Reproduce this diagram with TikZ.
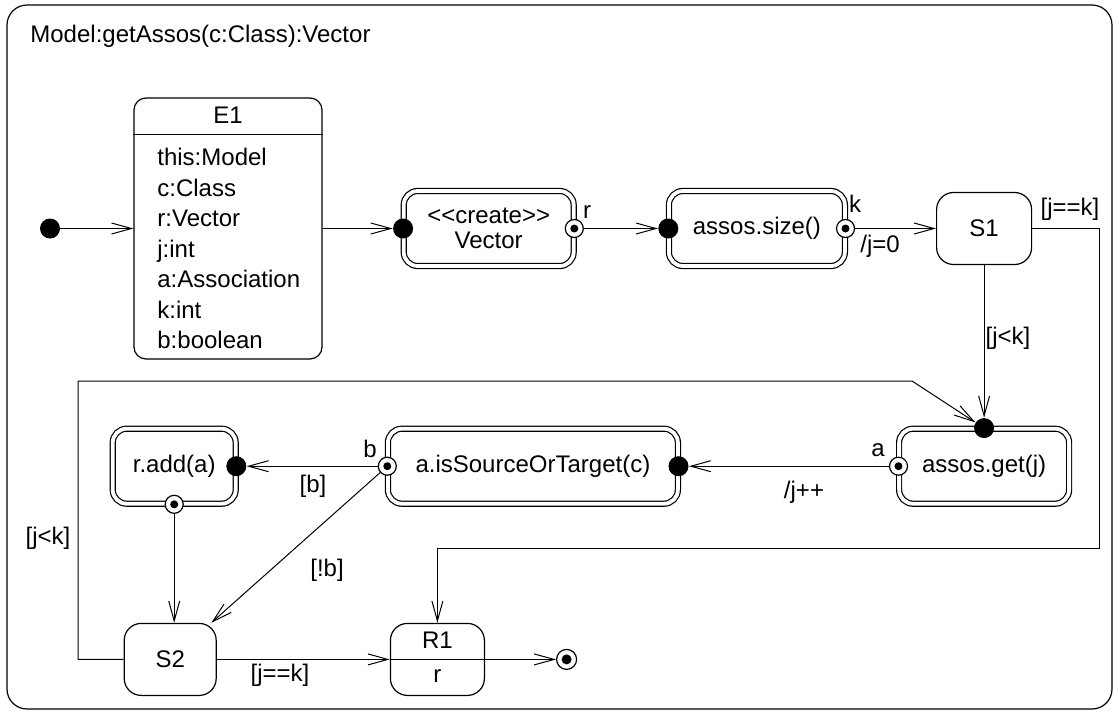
\documentclass[tikz,border=0pt]{standalone}
\usepackage{fontspec}
\setmainfont{Liberation Sans}
\usetikzlibrary{positioning, arrows.meta}

\tikzset{
	state/.style={draw, line width=0.6pt, rounded corners=8.5pt, minimum height=36pt, inner sep=2pt},
	action/.style={draw, double, double distance=1.9pt, line width=0.6pt, rounded corners=7pt, minimum height=37.5pt, align=center},
	pinin/.style={circle, fill=black, minimum size=10pt, inner sep=0pt},
	pinout/.style={circle, draw, fill=white, line width=0.6pt, minimum size=9pt, inner sep=0pt,
		path picture={\fill[black] (path picture bounding box.center) circle (2pt);}},
	trans/.style={draw, line width=0.5pt, -{Straight Barb[length=10pt, width=5.5pt]}},
	lbl/.style={inner sep=1pt, text height=8.6pt, text depth=2.4pt},
}

\begin{document}
\begin{tikzpicture}[x=0.5pt, y=-0.5pt, font=\fontsize{12}{12.5}\selectfont]
	\useasboundingbox (0,0) rectangle (1118,713);
	\draw[line width=0.6pt, rounded corners=10pt] (7,5) rectangle (1112,709);
	\node[lbl, anchor=west] (title) at (28,36) {Model:getAssos(c:Class):Vector};
	% E1 with its variables
	\node[state, rounded corners=6pt, minimum width=94pt, minimum height=130.5pt] (E1) at (228,228.5) {};
	\draw[line width=0.6pt] ([yshift=-18.5pt]E1.north west) -- ([yshift=-18.5pt]E1.north east);
	\node[lbl] (E1name) at (228,117) {E1};
	\foreach \v [count=\i] in {this:Model, c:Class, r:Vector, j:int, a:Association, k:int, b:boolean}
		\node[lbl, anchor=west, text depth=0pt] (var\i) at (155, 126.5+30.5*\i) {\v};
	\node[pinin, left=36.5pt of E1] (init) {};
	% top row
	\node[action, minimum width=85pt, right=40.25pt of E1] (create) {<\kern0pt<create>\kern0pt>\\Vector};
	\node[action, minimum width=88pt, right=47pt of create] (size) {assos.size()};
	\node[state, minimum width=47.5pt, right=45.25pt of size] (S1) {S1};
	% lower row
	\node[action, minimum width=85pt, below=81.5pt of S1] (get) {assos.get(j)};
	\node[action, minimum width=145pt, left=110pt of get] (src) {a.isSourceOrTarget(c)};
	\node[action, minimum width=61.5pt, left=75.5pt of src] (add) {r.add(a)};
	\node[state, minimum width=46pt, below=59.25pt of add, xshift=-2pt] (S2) {S2};
	\node[state, minimum width=47pt, right=86.5pt of S2] (R1) {};
	\draw[line width=0.6pt] (R1.west) -- (R1.east);
	\node[lbl] (R1name) at ([yshift=8.5pt]R1.center) {R1};
	\node[lbl] (R1res) at ([yshift=-8.5pt]R1.center) {r};
	\node[pinout, minimum size=10pt, right=35.5pt of R1,
		path picture={\fill[black] (path picture bounding box.center) circle (2.5pt);}] (final) {};
	% pins
	\node[pinin] (createIn) at (create.west) {};
	\node[pinout] (createOut) at (create.east) {};
	\node[pinin] (sizeIn) at (size.west) {};
	\node[pinout] (sizeOut) at (size.east) {};
	\node[pinin] (getIn) at (get.north) {};
	\node[pinout] (getOut) at (get.west) {};
	\node[pinin] (srcIn) at (src.east) {};
	\node[pinout] (srcOut) at (src.west) {};
	\node[pinin] (addIn) at (add.east) {};
	\node[pinout] (addOut) at (add.south) {};
	\coordinate (rt) at (1099,548);
	\coordinate (lp1) at (78,381);
	\coordinate (lp2) at (912,381);
	% transitions
	\draw[trans] (init) -- (init -| E1.west);
	\draw[trans] (E1) -- (createIn);
	\draw[trans] (createOut) -- (sizeIn);
	\draw[trans] (sizeOut) -- (S1);
	\draw[trans] (S1.east) -| (rt) -| (R1.north);
	\draw[trans] (S1) -- (getIn);
	\draw[trans] (getOut) -- (srcIn);
	\draw[trans] (srcOut) -- (addIn);
	\draw[trans] (srcOut) -- (S2);
	\draw[trans] (addOut) -- (addOut |- S2.north);
	\draw[trans] (S2.west) -| (lp1) -- (lp2) -- (getIn);
	\draw[trans] (S2) -- (R1);
	\draw[trans] (R1) -- (final);
	% labels
	\node[lbl] (rLbl) at (587,212) {r};
	\node[lbl] (kLbl) at (855,206) {k};
	\node[lbl] (initJ) at (880,246) {/j=0};
	\node[lbl] (done1) at (1070,209) {[j==k]};
	\node[lbl] (loop1) at (1008,338) {[j<k]};
	\node[lbl] (aLbl) at (878,450) {a};
	\node[lbl] (incJ) at (804,492) {/j++};
	\node[lbl] (bLbl) at (370,451) {b};
	\node[lbl] (isB) at (313,486) {[b]};
	\node[lbl] (notB) at (327,570) {[!b]};
	\node[lbl] (loop2) at (48,538) {[j<k]};
	\node[lbl] (done2) at (280,675) {[j==k]};
\end{tikzpicture}
\end{document}
